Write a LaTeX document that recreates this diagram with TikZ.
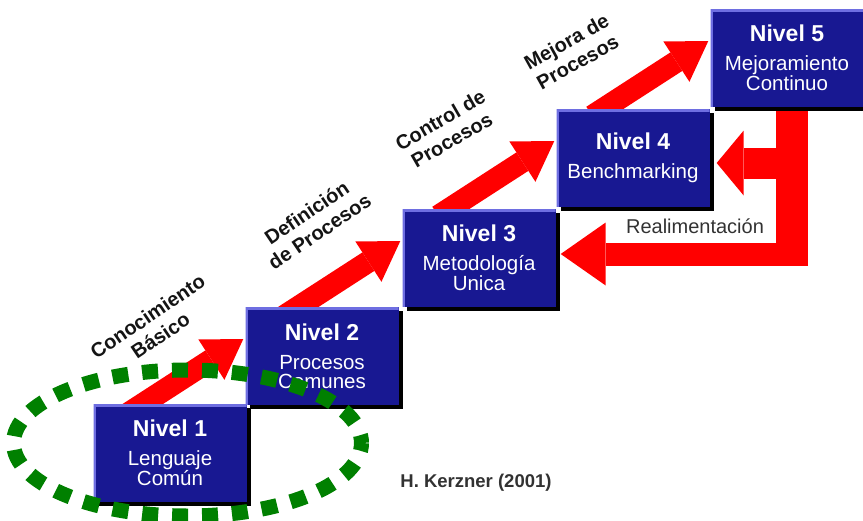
\documentclass[tikz,border=0pt]{standalone}
\usepackage{fontspec}
\setmainfont{Liberation Sans}
\usetikzlibrary{arrows.meta,calc,shadows,backgrounds}

\definecolor{navy}{RGB}{24,24,146}
\definecolor{navyedge}{RGB}{110,110,225}
\definecolor{stepred}{RGB}{255,0,0}
\definecolor{ringgreen}{RGB}{0,128,0}
\definecolor{inkgray}{RGB}{50,50,50}
\definecolor{labelink}{RGB}{20,20,20}

% bold first line of a level box
\newcommand\lvtitle[1]{{\fontsize{23}{23}\selectfont\bfseries #1}}

\begin{document}
\begin{tikzpicture}[x=1pt,y=-1pt,
  levelbox/.style={rectangle, fill=navy, minimum width=153pt, minimum height=98pt,
    inner sep=0pt, text=white, align=center,
    font=\fontsize{20.5}{19}\selectfont,
    general shadow={fill=black, shadow xshift=4pt, shadow yshift=-4pt},
    path picture={\draw[navyedge, line width=5pt]
      (path picture bounding box.south west) |- (path picture bounding box.north east);}},
  climb/.style={draw=stepred, line width=22pt,
    -{Triangle[length=38pt,width=48pt,line width=0pt]}},
  feedbar/.style={draw=stepred, line width=32pt},
  steplabel/.style={align=center, inner sep=0pt, text=labelink,
    font=\fontsize{20}{23}\selectfont\bfseries},
  ring/.style={draw=ringgreen, line width=15pt, dash pattern=on 16pt off 13.96pt, dash phase=8pt}
]
\useasboundingbox (0,0) rectangle (863,520);

% the five maturity levels
\node[levelbox] (n1) at (170,453) {\lvtitle{Nivel 1}\\[10pt]Lenguaje\\Común};
\node[levelbox] (n2) at (322,356) {\lvtitle{Nivel 2}\\[10pt]Procesos\\Comunes};
\node[levelbox] (n3) at (479,258) {\lvtitle{Nivel 3}\\[10pt]Metodología\\Unica};
\node[levelbox] (n4) at (633,158) {\lvtitle{Nivel 4}\\[10pt]Benchmarking};
\node[levelbox] (n5) at (787,58)  {\lvtitle{Nivel 5}\\[10pt]Mejoramiento\\Continuo};

% rising arrows between consecutive levels, behind the boxes
\begin{scope}[on background layer]
  \foreach \a/\b in {n1/n2, n2/n3, n3/n4, n4/n5}{
    \coordinate (tip-\b) at ($(\b.west)+(-2,-17)$);
    \draw[climb] ($(tip-\b)+(-116,75)$) -- (tip-\b);
  }
  % feedback from level 5 back to levels 4 and 3
  \coordinate (fbroot) at ($(n5.south)+(5,-4)$);
  \coordinate (fbupper) at ($(n4.east)+(7,5)$);
  \coordinate (fblower) at ($(n3.east)+(5,-4)$);
  \draw[feedbar] (fbroot) -- ($(fbroot |- fblower)+(0,11.5)$);
  \draw[draw=stepred, line width=31pt, -{Triangle[length=27pt,width=65pt,line width=0pt]}]
    (fbroot |- fbupper) -- (fbupper);
  \draw[draw=stepred, line width=23pt, -{Triangle[length=45pt,width=63pt,line width=0pt]}]
    ($(fbroot |- fblower)+(16,0)$) -- (fblower);
\end{scope}

% stage labels along the rising arrows
\node[steplabel, rotate=34] (t1) at (154,326) {Conocimiento\\Básico};
\node[steplabel, rotate=34] (t2) at (313,222) {Definición\\de Procesos};
\node[steplabel, rotate=30] (t3) at (446,130) {Control de\\Procesos};
\node[steplabel, rotate=29] (t4) at (572,52) {Mejora de\\Procesos};

\node[anchor=base, text=inkgray, font=\fontsize{20}{22}\selectfont] (fbtext) at (695,233) {Realimentación};
\node[anchor=base, text=inkgray, font=\fontsize{18.5}{20}\selectfont\bfseries] (cite) at (476,487) {H. Kerzner (2001)};

% dotted ring around the first level
\draw[ring] (187.5,443) ellipse [x radius=174pt, y radius=73pt];
\end{tikzpicture}
\end{document}
